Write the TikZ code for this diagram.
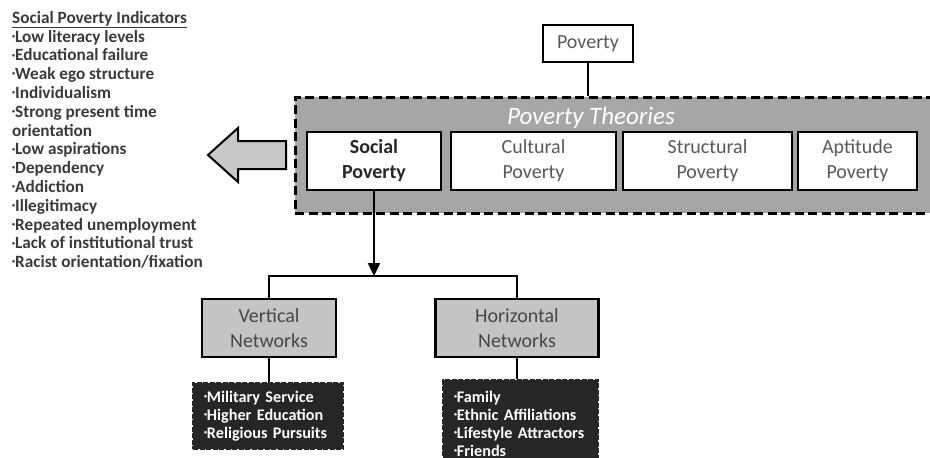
\documentclass[tikz,border=0pt]{standalone}
\usepackage{fontspec}
\setmainfont{Carlito}
\usetikzlibrary{arrows.meta}
\definecolor{panelgray}{HTML}{A6A6A6}
\definecolor{netgray}{HTML}{C4C4C4}
\definecolor{arrowgray}{HTML}{C8C8C8}
\definecolor{inkgray}{HTML}{595959}
\definecolor{listink}{HTML}{3A3A3A}
\definecolor{darkpanel}{HTML}{262626}
\newcommand\bul{\raisebox{0.45ex}{\fontsize{6}{6}\selectfont\textbullet}}

\begin{document}
\begin{tikzpicture}[x=1pt,y=-1pt,
  box/.style={draw=black, line width=2.4pt, fill=white, inner sep=2pt, align=center,
    text=inkgray, font=\fontsize{20}{25}\selectfont},
  netbox/.style={box, fill=netgray, text=black!72},
  listbox/.style={draw=black!85, line width=1.8pt, dash pattern=on 5pt off 1.5pt,
    fill=darkpanel, text=white, align=left, inner xsep=11pt,
    font=\bfseries\fontsize{16.2}{18}\selectfont},
  link/.style={line width=2.4pt},
]
\useasboundingbox (0,0) rectangle (930,458);

% indicator list on the left
\node[anchor=north west, inner sep=0pt, align=left, text=listink,
  font=\bfseries\fontsize{17.2}{18.8}\selectfont] (indicators) at (12,11)
  {\underline{Social Poverty Indicators}\\
   \bul Low literacy levels\\
   \bul Educational failure\\
   \bul Weak ego structure\\
   \bul Individualism\\
   \bul Strong present time\\
   orientation\\
   \bul Low aspirations\\
   \bul Dependency\\
   \bul Addiction\\
   \bul Illegitimacy\\
   \bul Repeated unemployment\\
   \bul Lack of institutional trust\\
   \bul Racist orientation/fixation};

% block arrow pointing at the list
\draw[line width=2pt, fill=arrowgray, line join=miter]
  (286,141) -- (238,141) -- (238,128) -- (208,155) -- (238,182) -- (238,169) -- (286,169) -- cycle;

% top node
\node[box, minimum width=90pt, minimum height=37pt] (poverty) at (588,43.5) {Poverty};

% dashed panel of theories
\node[draw=black, line width=3pt, dash pattern=on 9pt off 4.5pt, fill=panelgray,
  minimum width=640pt, minimum height=116pt] (theories) at (615,155) {};
\node[text=white, font=\itshape\fontsize{25}{28}\selectfont] (title) at (591,118) {Poverty Theories};

\node[box, minimum width=134pt, minimum height=58pt, text=black!85,
  font=\bfseries\fontsize{20}{25}\selectfont] (social) at (374,161) {Social\\Poverty};
\node[box, minimum width=165pt, minimum height=58pt] (cultural) at (533.5,161) {Cultural\\Poverty};
\node[box, minimum width=169pt, minimum height=58pt] (structural) at (707.5,161) {Structural\\Poverty};
\node[box, minimum width=119pt, minimum height=58pt] (aptitude) at (857.5,161) {Aptitude\\Poverty};

\draw[link] (poverty.south) -- (poverty.south |- theories.north);

% network split
\coordinate (split) at (374,276);
\node[netbox, minimum width=134pt, minimum height=58pt] (vnet) at (269,328) {Vertical\\Networks};
\node[netbox, minimum width=163pt, minimum height=58pt] (hnet) at (517,328) {Horizontal\\Networks};

\draw[link, -{Triangle[length=13pt,width=12pt]}] (social.south) -- (split);
\draw[line width=2pt] (vnet.north) -- (vnet.north |- split) -- (hnet.north |- split) -- (hnet.north);

% bullet panels
\node[listbox, minimum width=150pt, minimum height=66pt, text width=128pt] (vlist) at (268,416)
  {\bul Military Service\\ \bul Higher Education\\ \bul Religious Pursuits};
\node[listbox, minimum width=155pt, minimum height=87pt, text width=133pt] (hlist) at (520.5,423.5)
  {\bul Family\\ \bul Ethnic Affiliations\\ \bul Lifestyle Attractors\\ \bul Friends};

\draw[link] (vnet.south) -- (vnet.south |- vlist.north);
\draw[link] (hnet.south) -- (hnet.south |- hlist.north);
\end{tikzpicture}
\end{document}
